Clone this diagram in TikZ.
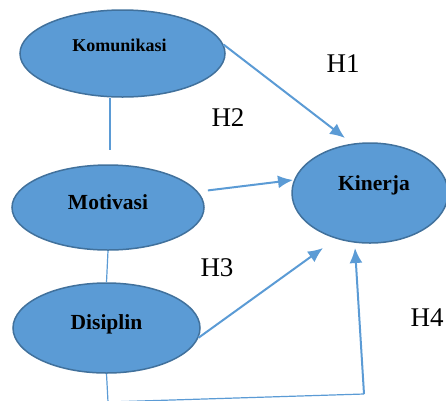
\documentclass[tikz,border=0pt]{standalone}
\usepackage{fontspec}
\setmainfont{Liberation Serif}
\usetikzlibrary{arrows.meta, shapes.geometric}

\definecolor{varfill}{RGB}{91,155,213}
\definecolor{varline}{RGB}{65,113,156}

\tikzset{
    var/.style = {ellipse, draw=varline, fill=varfill, line width=1.5pt, inner sep=0pt},
    hyp/.style = {font=\fontsize{27}{30}\selectfont},
    link/.style = {draw=varfill, line width=1.2pt},
    arr/.style = {draw=varfill, fill=varfill, line width=2pt, -{Latex[length=15pt,width=13pt]}}
}

\begin{document}
\begin{tikzpicture}[x=1pt, y=-1pt]
    \useasboundingbox (0,0) rectangle (446,400);
    \node[var, minimum width=205pt, minimum height=87pt, label={[xshift=-3pt,yshift=8pt,font=\fontsize{18}{20}\selectfont\bfseries]center:Komunikasi}] (kom) at (122.5,53.5) {};
    \node[var, minimum width=192pt, minimum height=85pt, label={[yshift=5pt,font=\fontsize{21.5}{24}\selectfont\bfseries]center:Motivasi}] (mot) at (108,207.5) {};
    \node[var, minimum width=187pt, minimum height=90pt, label={[yshift=4pt,font=\fontsize{21.5}{24}\selectfont\bfseries]center:Disiplin}] (dis) at (106.5,328) {};
    \node[var, minimum width=156pt, minimum height=100pt, label={[xshift=4pt,yshift=8pt,font=\fontsize{21.5}{24}\selectfont\bfseries]center:Kinerja}] (kin) at (370,193) {};

    \node[hyp] (h1) at (343,63.5) {H1};
    \node[hyp] (h2) at (228,117.5) {H2};
    \node[hyp] (h3) at (217,267.5) {H3};
    \node[hyp] (h4) at (427,317.5) {H4};

    \coordinate (k1) at (110,150);
    \coordinate (c1) at (108,402);
    \coordinate (c2) at (364,394);
    \coordinate (t1) at (345,138);
    \coordinate (t2) at (293,180);
    \coordinate (t3) at (323,248);
    \coordinate (t4) at (355,248);

    % lines between the variables
    \draw[link] (kom.south -| k1) -- (k1);
    \draw[link] (mot.south) -- (dis.north);
    \draw[link] (dis.south) -- (c1) -- (c2);

    % hypotheses
    \draw[arr] (kom.5) -- (t1);
    \draw[arr, shorten <=10pt] (mot.10) -- (t2);
    \draw[arr] (dis.-6) -- (t3);
    \draw[arr] (c2) -- (t4);
\end{tikzpicture}
\end{document}
